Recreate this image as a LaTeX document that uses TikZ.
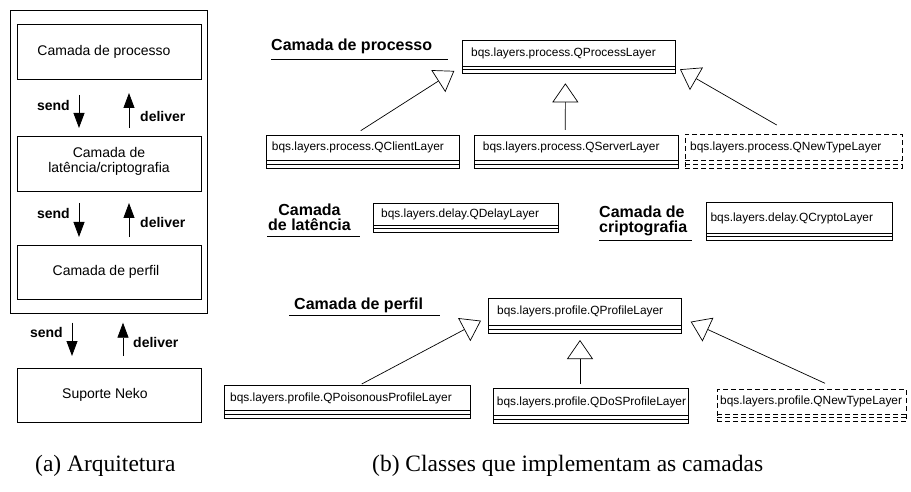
\documentclass[tikz,border=0pt]{standalone}
\usepackage{fontspec}
\setmainfont{Liberation Serif}
\newfontfamily\hv{Liberation Sans}
\usetikzlibrary{arrows.meta,calc}

% UML class box: name compartment plus two thin empty compartments
% #1 extra options, #2 node name, #3 x, #4 top, #5 width, #6 height, #7 text indent, #8 class name
\newcommand\umlclass[8][]{%
  \node[classframe,#1,minimum width=#5pt,minimum height=#6pt,anchor=north west] (#2) at (#3,#4) {};
  \draw[classline,#1] ([yshift=7.5pt]#2.south west) -- ([yshift=7.5pt]#2.south east);
  \draw[classline,#1] ([yshift=4pt]#2.south west) -- ([yshift=4pt]#2.south east);
  \node[ctext,anchor=west] (#2-name) at ($([xshift=#7pt]#2.north west)!0.5!([xshift=#7pt,yshift=7.5pt]#2.south west)$) {#8};
}

\begin{document}
\begin{tikzpicture}[x=1pt,y=-1pt,
  classframe/.style={draw,line width=0.8pt,inner sep=0pt,outer sep=0pt},
  classline/.style={line width=0.8pt},
  newtype/.style={dash pattern=on 5pt off 3pt},
  ctext/.style={font=\hv\fontsize{11.9}{14}\selectfont,inner sep=0pt},
  gen/.style={-{Triangle[open,length=19pt,width=26pt]},line width=0.7pt},
  flow/.style={-{Triangle[length=15pt,width=11pt]},line width=0.8pt},
  lbl/.style={font=\hv\bfseries\fontsize{14}{16}\selectfont,inner sep=0pt},
  head/.style={font=\hv\bfseries\fontsize{16}{15}\selectfont,inner sep=0pt},
  layerbox/.style={draw,line width=0.8pt,inner sep=0pt,outer sep=0pt,anchor=north west},
  layertext/.style={font=\hv\fontsize{14}{15}\selectfont,align=center},
  caption/.style={font=\fontsize{23.5}{28}\selectfont,inner sep=0pt}]
\useasboundingbox (0,0) rectangle (911,492);

% ---------- (a) layered architecture ----------
\node[layerbox,minimum width=197pt,minimum height=303pt] (stack) at (10.5,10) {};
\node[layerbox,minimum width=184pt,minimum height=55pt] (proc) at (17,24) {};
\node[layerbox,minimum width=184pt,minimum height=55pt] (lat) at (17,136) {};
\node[layerbox,minimum width=184pt,minimum height=54pt] (perf) at (17,245) {};
\node[layerbox,minimum width=184pt,minimum height=54pt] (neko) at (17,368) {};
\node[layertext] (proc-t) at ([xshift=-5pt]proc.center) {Camada de processo};
\node[layertext] (lat-t) at ([yshift=2pt]lat.center) {Camada de\\latência/criptografia};
\node[layertext] (perf-t) at ([xshift=-3pt]perf.center) {Camada de perfil};
\node[layertext] (neko-t) at ([xshift=-4pt]neko.center) {Suporte Neko};

\draw[flow,shorten <=16pt,shorten >=8pt] ([xshift=-30pt]proc.south) -- ([xshift=-30pt]lat.north);
\draw[flow,shorten <=8pt,shorten >=14pt] ([xshift=20pt]lat.north) -- ([xshift=20pt]proc.south);
\node[lbl,anchor=east] (s1) at (70,105) {send};
\node[lbl,anchor=west] (d1) at (140,116.7) {deliver};

\draw[flow,shorten <=12pt,shorten >=8pt] ([xshift=-30pt]lat.south) -- ([xshift=-30pt]perf.north);
\draw[flow,shorten <=8pt,shorten >=12pt] ([xshift=20pt]perf.north) -- ([xshift=20pt]lat.south);
\node[lbl,anchor=east] (s2) at (70,213.3) {send};
\node[lbl,anchor=west] (d2) at (140,222.7) {deliver};

\draw[flow,shorten <=9.7pt,shorten >=12pt] ([xshift=-37pt]stack.south) -- ([xshift=-37pt]neko.north);
\draw[flow,shorten <=12pt,shorten >=9.7pt] ([xshift=14pt]neko.north) -- ([xshift=14pt]stack.south);
\node[lbl,anchor=east] (s3) at (63,332.3) {send};
\node[lbl,anchor=west] (d3) at (133,342.7) {deliver};

% ---------- (b) classes implementing the layers ----------
% process layer
\node[head,anchor=west] (hproc) at (271,46.7) {Camada de processo};
\draw[line width=0.8pt] (271,59.3) -- (448,59.3);
\umlclass{process}{462.3}{40}{213}{33.5}{8.7}{bqs.layers.process.QProcessLayer}
\umlclass{client}{266.7}{135}{192.6}{33}{5}{bqs.layers.process.QClientLayer}
\umlclass{server}{474.3}{135}{204}{33}{8.4}{bqs.layers.process.QServerLayer}
\umlclass[newtype]{newproc}{685}{134}{217}{34}{5}{bqs.layers.process.QNewTypeLayer}

\coordinate (g1) at ([xshift=-8pt,yshift=2.6pt]process.south west);
\coordinate (g2) at ([xshift=-3.4pt,yshift=-9.8pt]process.south);
\coordinate (g3) at ([xshift=4.7pt,yshift=4.2pt]process.south east);
\draw[gen] ([xshift=-2.3pt,yshift=4.3pt]client.north) -- (g1);
\draw[gen] ([xshift=-11pt,yshift=5pt]server.north) -- (g2);
\draw[gen] ([xshift=-16.8pt,yshift=9pt]newproc.north) -- (g3);

% delay layers
\node[head,align=center] (hlat) at (309.5,217) {Camada\\de latência};
\draw[line width=0.8pt] (267,236.7) -- (360,236.7);
\umlclass{delay}{373.5}{203.3}{184.5}{29.5}{7.5}{bqs.layers.delay.QDelayLayer}

\node[head,align=left,anchor=west] (hcrypt) at (599,220.5) {Camada de\\criptografia};
\draw[line width=0.8pt] (599,240.7) -- (692,240.7);
\umlclass{crypto}{706}{202.7}{186}{38}{4.4}{bqs.layers.delay.QCryptoLayer}

% profile layer
\node[head,anchor=west] (hprof) at (294,305) {Camada de perfil};
\draw[line width=0.8pt] (289,315.7) -- (440,315.7);
\umlclass{profile}{488}{298}{193}{35}{9}{bqs.layers.profile.QProfileLayer}
\umlclass{poison}{224}{385.7}{246.7}{32.6}{6}{bqs.layers.profile.QPoisonousProfileLayer}
\umlclass{dos}{493.3}{388.3}{195}{35}{3.4}{bqs.layers.profile.QDoSProfileLayer}
\umlclass[newtype]{newprof}{717.3}{389.3}{189}{32.4}{2.7}{bqs.layers.profile.QNewTypeLayer}

\coordinate (g4) at ([xshift=-7pt,yshift=12.3pt]profile.south west);
\coordinate (g5) at ([xshift=-4.5pt,yshift=-7pt]profile.south);
\coordinate (g6) at ([xshift=9.7pt,yshift=11.3pt]profile.south east);
\draw[gen] ([xshift=14.4pt,yshift=1.7pt]poison.north) -- (g4);
\draw[gen] ([xshift=-10.8pt,yshift=4.3pt]dos.north) -- (g5);
\draw[gen] ([xshift=13.2pt,yshift=6pt]newprof.north) -- (g6);

% captions
\node[caption,anchor=base west] (capa) at (35,471) {(a) Arquitetura};
\node[caption,anchor=base west] (capb) at (372,471) {(b) Classes que implementam as camadas};
\end{tikzpicture}
\end{document}
